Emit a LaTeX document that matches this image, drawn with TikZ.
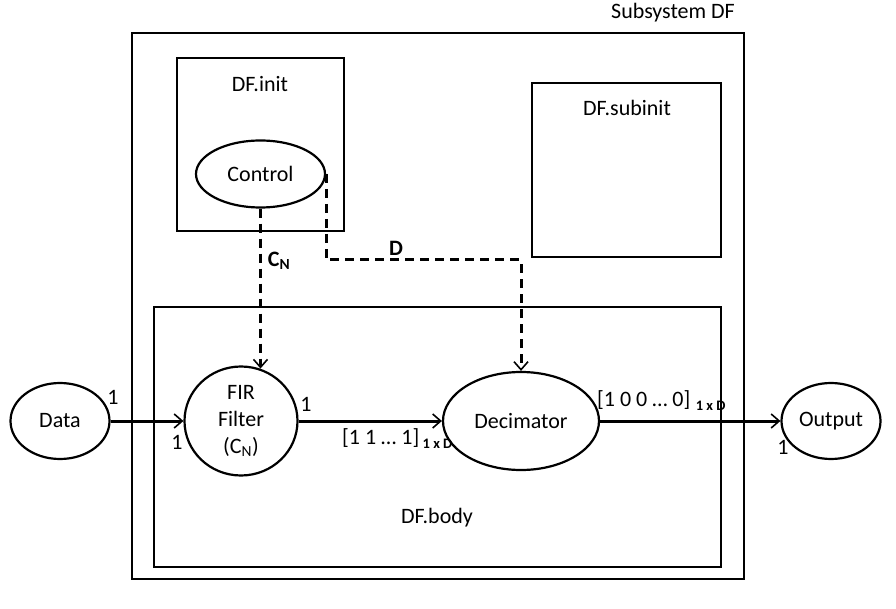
\documentclass[tikz,border=0pt]{standalone}
\usepackage{fontspec}
\setmainfont{Carlito}
\usetikzlibrary{shapes.geometric,arrows.meta}
\begin{document}
\begin{tikzpicture}[x=1pt,y=-1pt,
  box/.style={draw,line width=2pt},
  oval/.style={draw,ellipse,line width=2.2pt,inner sep=0pt,font=\fontsize{22}{27}\selectfont},
  flow/.style={line width=3pt,-{Straight Barb[length=8pt,width=14pt,line width=1.6pt]}},
  ctl/.style={line width=3pt,dash pattern=on 9pt off 6pt,-{Straight Barb[length=8pt,width=14pt,line width=1.6pt]}},
  lbl/.style={font=\fontsize{22}{27}\selectfont,inner sep=0pt},
  sub/.style={font=\fontsize{14.5}{16}\selectfont\bfseries,inner sep=0pt}]
\useasboundingbox (0,0) rectangle (896,609);
% boxes
\draw[box] (132,33) rectangle (744,579);
\node[lbl] (tsub) at (673,13) {Subsystem DF};
\draw[box] (177,58) rectangle (344,231);
\node[lbl] (tinit) at (260,84) {DF.init};
\draw[box] (532,83) rectangle (721,257);
\node[lbl] (tsubinit) at (627,108) {DF.subinit};
\draw[box] (154,307) rectangle (721,567);
\node[lbl] (tbody) at (437,518) {DF.body};
% nodes
\node[oval,minimum width=129pt,minimum height=67pt] (ctrl) at (260.5,174) {Control};
\node[oval,minimum width=99pt,minimum height=76pt] (data) at (60,421) {Data};
\node[oval,minimum width=113pt,minimum height=109pt,align=center] (fir) at (241,421) {FIR\\Filter\\(C\textsubscript{N})};
\node[oval,minimum width=156pt,minimum height=98pt] (dec) at (521,421) {Decimator};
\node[oval,minimum width=99pt,minimum height=76pt] (out) at (831,421) {Output};
% connectors
\draw[flow] (data) -- (fir);
\draw[flow] (fir) -- (dec);
\draw[flow] (dec) -- (out);
\draw[ctl] (ctrl.south) -- (ctrl.south |- fir.70);
\coordinate (dbend) at (ctrl.east |- 0,260);
\draw[ctl] (ctrl.east) -- (dbend) -| (dec.north);
% labels
\node[lbl,font=\fontsize{22}{27}\selectfont\bfseries] (lcn) at (279,261) {C\textsubscript{N}};
\node[lbl,font=\fontsize{22}{27}\selectfont\bfseries] (ld) at (396,248) {D};
\node[lbl] (l1a) at (113,397) {1};
\node[lbl] (l1b) at (177,442) {1};
\node[lbl] (l1c) at (306,404) {1};
\node[lbl] (l1d) at (783,447) {1};
\node[lbl,anchor=west] (v1) at (342,438) {[1 1 … 1]};
\node[sub,anchor=west] (v1s) at (v1.east) [yshift=-6pt,xshift=3pt] {1 x D};
\node[lbl,anchor=west] (v2) at (597,400) {[1 0 0 … 0]};
\node[sub,anchor=west] (v2s) at (v2.east) [yshift=-6pt,xshift=5pt] {1 x D};
\end{tikzpicture}
\end{document}
